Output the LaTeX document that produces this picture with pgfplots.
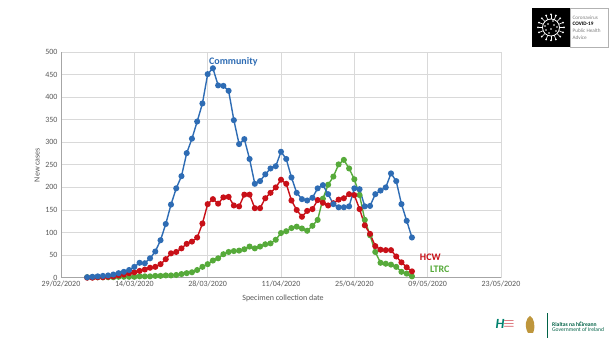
\documentclass[border=0pt]{standalone}
\usepackage{pgfplots}
\pgfplotsset{compat=1.18}
\usepackage{pgfplotstable}
\usepackage{fontspec}
\setmainfont{Carlito}
\definecolor{cblue}{RGB}{46,108,180}
\definecolor{cred}{RGB}{200,16,24}
\definecolor{cgreen}{RGB}{86,170,58}
\definecolor{gridc}{RGB}{217,217,217}
\definecolor{axc}{RGB}{166,166,166}
\definecolor{tickc}{RGB}{89,89,89}
\definecolor{irlgreen}{RGB}{0,98,70}
\definecolor{hsegreen}{RGB}{0,130,110}
\definecolor{hsered}{RGB}{200,30,40}
\definecolor{harp}{RGB}{190,150,60}

\pgfplotstableread{
day blue red green
5 1 0 1
6 2 0 1
7 3 1 1
8 4 1 1
9 5 2 1
10 7 3 1
11 10 5 2
12 13 7 2
13 17 10 2
14 24 12 2
15 33 15 3
16 32 18 3
17 43 22 3
18 58 24 4
19 83 30 4
20 119 41 5
21 162 54 5
22 198 57 6
23 225 65 8
24 276 75 10
25 308 80 12
26 346 89 17
27 386 120 24
28 451 163 30
29 464 174 38
30 426 164 43
31 425 178 52
32 414 179 57
33 349 160 59
34 296 158 60
35 307 184 63
36 263 184 69
37 208 154 65
38 214 154 69
39 229 176 74
40 242 188 76
41 247 200 84
42 279 217 99
43 263 208 103
44 222 171 110
45 188 150 113
46 174 135 109
47 171 148 104
48 177 152 115
49 198 172 128
50 205 166 175
51 185 160 206
52 163 165 224
53 156 173 251
54 156 176 261
55 158 185 242
56 198 183 218
57 196 152 183
58 158 116 128
59 159 97 94
60 185 70 57
61 193 62 33
62 200 61 31
63 231 61 29
64 214 47 24
65 163 34 13
66 126 23 9
67 89 14 3
}\datatable

\begin{document}
\begin{tikzpicture}
\path[use as bounding box, fill=white] (0pt,0pt) rectangle (614pt,344pt);
\begin{axis}[
  at={(61pt,66.3pt)}, anchor=south west,
  scale only axis, width=440pt, height=225.7pt,
  xmin=0, xmax=84, ymin=0, ymax=500,
  xtick={0,14,28,42,56,70,84},
  xticklabels={29/02/2020,14/03/2020,28/03/2020,11/04/2020,25/04/2020,09/05/2020,23/05/2020},
  ytick={0,50,...,500},
  grid=major,
  grid style={gridc, line width=0.7pt},
  axis x line*=bottom, axis y line*=left,
  axis line style={axc, line width=0.8pt, -},
  tick style={draw=none},
  ticklabel style={font=\fontsize{8}{9}\selectfont, text=tickc},
  /pgf/number format/assume math mode=true,
  clip=false,
]
\addplot[cgreen, line width=1.4pt, mark=*, mark size=2.3pt, mark options={fill=cgreen, draw=cgreen}] table[x=day, y=green] {\datatable};
\addplot[cred, line width=1.4pt, mark=*, mark size=2.3pt, mark options={fill=cred, draw=cred}] table[x=day, y=red] {\datatable};
\addplot[cblue, line width=1.4pt, mark=*, mark size=2.3pt, mark options={fill=cblue, draw=cblue}] table[x=day, y=blue] {\datatable};
\node[font=\fontsize{10}{11}\selectfont\bfseries, text=cblue] at (axis cs:32.9,478) {Community};
\node[font=\fontsize{10}{11}\selectfont\bfseries, text=cred] at (axis cs:70.5,46) {HCW};
\node[font=\fontsize{10}{11}\selectfont\bfseries, text=cgreen] at (axis cs:72.3,19) {LTRC};
\end{axis}
\node[font=\fontsize{8}{9}\selectfont, text=tickc] at (283pt,46pt) {Specimen collection date};
\node[font=\fontsize{8}{9}\selectfont, text=tickc, rotate=90] at (37pt,179pt) {New cases};
% top-right COVID logo
\fill[black] (532pt,297pt) rectangle (570pt,336pt);
\draw[gray!60, line width=0.5pt] (570pt,297pt) rectangle (608pt,336pt);
\draw[white, line width=0.8pt] (551pt,316.5pt) circle (8.5pt);
\foreach \a in {0,22.5,...,337.5}{
  \draw[white, line width=0.6pt] (551pt,316.5pt) ++(\a:8.5pt) -- ++(\a:4pt);
  \fill[white] (551pt,316.5pt) ++(\a:13pt) circle (1pt);
}
\foreach \p in {(548pt,320pt),(554pt,319pt),(551pt,315pt),(546pt,314pt),(556pt,313pt),(549pt,311pt),(553pt,323pt),(545pt,318pt),(557pt,317pt)}{
  \fill[white] \p circle (0.9pt);
}
\node[anchor=west, font=\fontsize{5.2}{6.8}\selectfont, align=left, inner sep=0pt] at (572.5pt,316.5pt) {{\color{gray}Coronavirus}\\\textbf{COVID-19}\\{\color{gray}Public Health}\\{\color{gray}Advice}};
% bottom-right logos
\node[font=\fontsize{14}{14}\selectfont\bfseries\itshape, text=hsegreen, inner sep=0pt] at (500pt,20pt) {H};
\node[font=\fontsize{14}{14}\selectfont\bfseries, text=hsered, inner sep=0pt] at (509pt,20pt) {$\equiv$};
\fill[harp] (528pt,11pt) .. controls (524pt,18pt) and (526pt,26pt) .. (530pt,28pt) .. controls (534pt,26pt) and (536pt,18pt) .. (533pt,11pt) -- cycle;
\draw[irlgreen, line width=0.6pt] (547pt,6pt) -- (547pt,31pt);
\node[anchor=west, font=\fontsize{5.6}{5.6}\selectfont, text=irlgreen, align=left, inner sep=0pt] at (552pt,17.5pt) {\textbf{Rialtas na hÉireann}\\[-0.3pt]Government of Ireland};
\end{tikzpicture}
\end{document}
